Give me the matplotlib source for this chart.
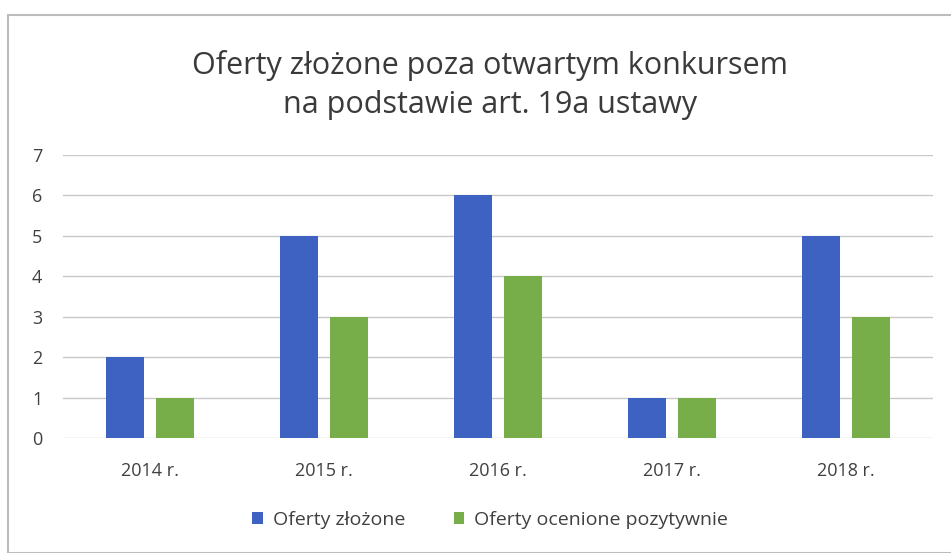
import matplotlib
matplotlib.use("Agg")
import matplotlib.pyplot as plt
import numpy as np
from matplotlib.patches import Rectangle

categories = ["2014 r.", "2015 r.", "2016 r.", "2017 r.", "2018 r."]
oferty_zlozone = [2, 5, 6, 1, 5]
oferty_pozytywne = [1, 3, 4, 1, 3]
series_names = ["Oferty złożone", "Oferty ocenione pozytywnie"]
title = "Oferty złożone poza otwartym konkursem\nna podstawie art. 19a ustawy"

plt.rcParams['font.family'] = ['Open Sans', 'DejaVu Sans']

fig = plt.figure(figsize=(9.51, 5.53), dpi=100)
fig.patch.set_facecolor("white")
fig.patches.append(Rectangle((8/951, 0), 1.2, (553-15)/553, transform=fig.transFigure,
                             fill=False, edgecolor="#bcbcbc", linewidth=1.5))

ax = fig.add_axes([63/951, 1-438/553, 870/951, (438-155)/553])
x = np.arange(len(categories))
w = 0.22
gap = 0.07
blue = "#3d62c2"
green = "#78ae4a"
ax.bar(x - (w + gap)/2, oferty_zlozone, width=w, color=blue, label=series_names[0], zorder=3)
ax.bar(x + (w + gap)/2, oferty_pozytywne, width=w, color=green, label=series_names[1], zorder=3)

ax.set_xlim(-0.5, len(categories) - 0.5)
ax.set_ylim(0, 7)
ax.set_yticks(range(0, 8))
ax.set_xticks(x)
ax.set_xticklabels(categories)
ax.grid(axis="y", color="#c8c8c8", linewidth=1, zorder=0)
for s in ax.spines.values():
    s.set_visible(False)
ax.tick_params(axis="both", length=0, colors="#404040")
ax.tick_params(axis="y", labelsize=13, pad=15)
ax.tick_params(axis="x", labelsize=13, pad=17)

fig.text(0.515, 1-85/553, title, ha="center", va="center", fontsize=22,
         color="#3a3a3a", linespacing=1.42)

leg = fig.legend(loc="center", bbox_to_anchor=(490/951, 1-520/553), ncol=2, frameon=False,
                 fontsize=14, handlelength=0.55, handleheight=0.55, columnspacing=2.5,
                 handletextpad=0.5, labelcolor="#404040")

fig.savefig("out.png", dpi=100)
